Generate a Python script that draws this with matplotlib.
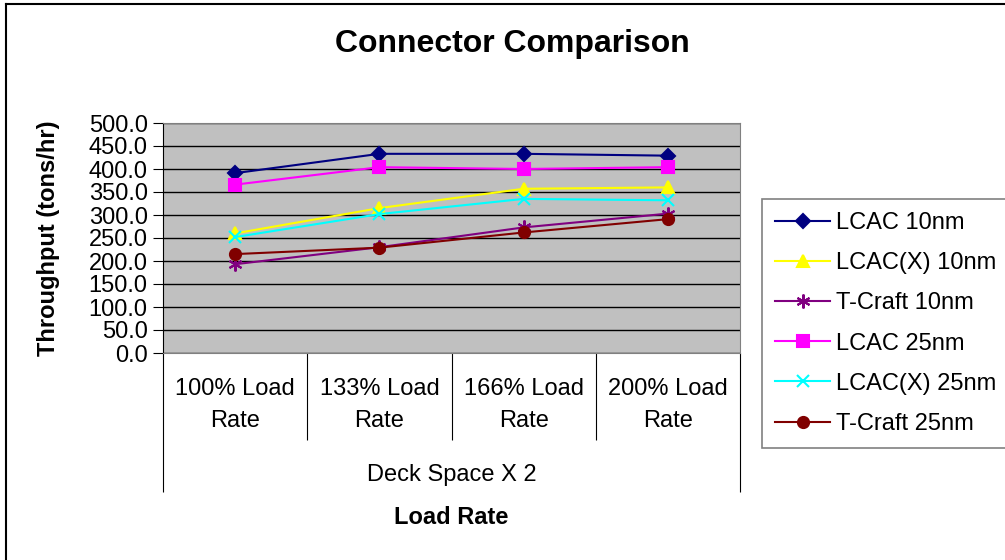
import matplotlib
matplotlib.use('Agg')
import matplotlib.pyplot as plt
from matplotlib.lines import Line2D
import numpy as np

plt.rcParams['font.family'] = ['Liberation Sans', 'DejaVu Sans']

categories = ['100% Load\nRate', '133% Load\nRate', '166% Load\nRate', '200% Load\nRate']
group_label = 'Deck Space X 2'

lcac_10 = [391, 433, 433, 429]
lcacx_10 = [260, 315, 357, 360]
tcraft_10 = [193, 230, 273, 303]
lcac_25 = [366, 404, 400, 404]
lcacx_25 = [252, 302, 335, 332]
tcraft_25 = [215, 229, 262, 291]

series = [
    ('LCAC 10nm', lcac_10, '#000080', 'D', 7),
    ('LCAC(X) 10nm', lcacx_10, '#FFFF00', '^', 9),
    ('T-Craft 10nm', tcraft_10, '#800080', (6, 2, 0), 10),
    ('LCAC 25nm', lcac_25, '#FF00FF', 's', 8),
    ('LCAC(X) 25nm', lcacx_25, '#00FFFF', 'x', 9),
    ('T-Craft 25nm', tcraft_25, '#800000', 'o', 8),
]

FS = 17

fig = plt.figure(figsize=(10.05, 5.6), dpi=100)
ax = fig.add_axes([163 / 1005, 1 - 353 / 560, 577 / 1005, 230 / 560])
ax.set_facecolor('#C0C0C0')

x = np.arange(len(categories))
for name, vals, col, mk, ms in series:
    ax.plot(x, vals, color=col, marker=mk, markersize=ms, lw=1.5,
            markeredgewidth=1.5, label=name, zorder=3)

ax.set_xlim(-0.5, len(categories) - 0.5)
ax.set_ylim(0, 500)
ax.set_yticks(np.arange(0, 501, 50))
ax.set_yticklabels(['%.1f' % v for v in np.arange(0, 501, 50)], fontsize=FS)
ax.tick_params(axis='y', direction='out', length=7, pad=4, color='black')
ax.set_xticks([])
ax.yaxis.grid(True, color='black', lw=1)
ax.set_axisbelow(True)
for s in ['top', 'right', 'bottom']:
    ax.spines[s].set_color('#808080')
ax.spines['left'].set_color('black')

# category labels and separators
tr = ax.get_xaxis_transform()
for i, lab in enumerate(categories):
    top, bot = lab.split('\n')
    ax.text(i, -0.155, top, transform=tr, ha='center', va='center', fontsize=FS)
    ax.text(i, -0.295, bot, transform=tr, ha='center', va='center', fontsize=FS)
ax.vlines(np.arange(0.5, len(categories) - 1), -0.378, 0, transform=tr,
          colors='black', lw=0.8, clip_on=False)
ax.vlines([-0.5, len(categories) - 0.5], -0.604, 0, transform=tr,
          colors='black', lw=0.8, clip_on=False)
ax.text(0.5, -0.530, group_label, transform=ax.transAxes, ha='center',
        va='center', fontsize=FS)
ax.text(0.5, -0.717, 'Load Rate', transform=ax.transAxes, ha='center',
        va='center', fontsize=FS, fontweight='bold')

fig.text(48 / 1005, 1 - 238 / 560, 'Throughput (tons/hr)', rotation=90,
         ha='center', va='center', fontsize=FS, fontweight='bold')
fig.text(512 / 1005, 1 - 44 / 560, 'Connector Comparison', ha='center',
         va='center', fontsize=23, fontweight='bold')

leg = ax.legend(loc='upper left', bbox_to_anchor=(762 / 1005, 1 - 199 / 560),
                bbox_transform=fig.transFigure, fontsize=FS, frameon=True,
                fancybox=False, edgecolor='#606060', borderaxespad=0,
                handlelength=2.35, handletextpad=0.25, labelspacing=0.77,
                borderpad=0.55)
leg.get_frame().set_linewidth(1.2)

# outer chart border (top and left visible)
fig.add_artist(Line2D([6 / 1005, 1], [1 - 4 / 560, 1 - 4 / 560],
                      transform=fig.transFigure, color='black', lw=1.5))
fig.add_artist(Line2D([6 / 1005, 6 / 1005], [0, 1 - 4 / 560],
                      transform=fig.transFigure, color='black', lw=1.5))

fig.savefig('out.png', dpi=100)
